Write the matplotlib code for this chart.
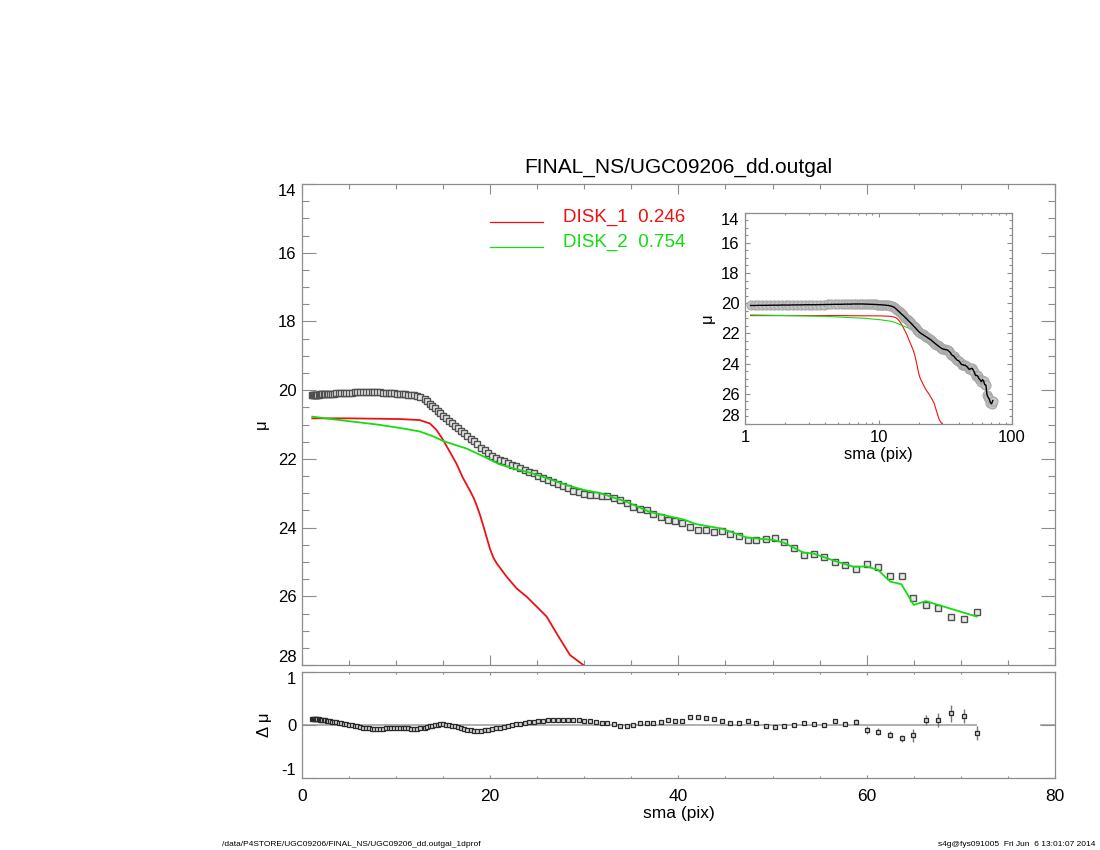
import numpy as np
import matplotlib.pyplot as plt
from matplotlib.ticker import MultipleLocator, FixedLocator, FixedFormatter, NullFormatter, LogLocator

plt.rcParams['font.family'] = ['Liberation Sans', 'DejaVu Sans']
plt.rcParams['axes.unicode_minus'] = False
NARROW = ['Liberation Sans Narrow', 'Liberation Sans', 'DejaVu Sans']

# observed isophote profile: semi-major axis (pix), surface brightness, residual
sma = [1.10, 1.18, 1.26, 1.35, 1.44, 1.54, 1.65, 1.76, 1.88, 2.01, 2.15, 2.30, 2.46, 2.63, 2.81, 3.00,
       3.20, 3.42, 3.65, 3.90, 4.15, 4.42, 4.70, 5.00, 5.30, 5.60, 5.90, 6.20, 6.50, 6.80, 7.10, 7.40,
       7.70, 8.00, 8.30, 8.60, 8.90, 9.20, 9.50, 9.80, 10.10, 10.40, 10.70, 11.00, 11.30, 11.60, 11.90,
       12.20, 12.55,
       13.06, 13.32, 13.59, 13.86, 14.14, 14.42, 14.71, 15.00, 15.30, 15.61, 15.92, 16.24, 16.56, 16.89,
       17.23, 17.58, 17.93, 18.29, 18.65, 19.03, 19.41, 19.80, 20.19, 20.60, 21.01, 21.43, 21.86, 22.29,
       22.74, 23.20, 23.66, 24.13, 24.62, 25.11, 25.61, 26.12, 26.65, 27.18, 27.72, 28.28, 28.84, 29.42,
       30.01, 30.61, 31.22,
       31.85, 32.45, 33.16, 33.79, 34.50, 35.21, 35.92, 36.63, 37.34, 38.12, 38.90, 39.67, 40.42, 41.23,
       42.05, 42.90, 43.78, 44.63, 45.52, 46.44, 47.36, 48.28, 49.27, 50.23, 51.22, 52.28, 53.31, 54.41,
       55.51, 56.61, 57.74, 58.87, 60.04, 61.25, 62.45, 63.73, 64.97, 66.28, 67.62, 68.93, 70.35, 71.77]

mu_obs = [20.15, 20.15, 20.14, 20.14, 20.14, 20.13, 20.13, 20.13, 20.12, 20.12, 20.12, 20.11, 20.11, 20.11, 20.10, 20.10,
          20.10, 20.10, 20.09, 20.09, 20.08, 20.08, 20.07, 20.07, 20.07, 20.06, 20.06, 20.06, 20.05, 20.05, 20.05, 20.05,
          20.05, 20.06, 20.06, 20.07, 20.07, 20.08, 20.08, 20.09, 20.10, 20.10, 20.11, 20.12, 20.13, 20.14, 20.15,
          20.17, 20.20,
          20.26, 20.32, 20.39, 20.46, 20.53, 20.60, 20.67, 20.74, 20.81, 20.89, 20.96, 21.03, 21.11, 21.18,
          21.26, 21.34, 21.41, 21.49, 21.58, 21.67, 21.75, 21.84, 21.91, 21.97, 22.03, 22.07, 22.12, 22.17,
          22.22, 22.27, 22.32, 22.37, 22.42, 22.49, 22.55, 22.62, 22.68, 22.74, 22.80, 22.86, 22.92, 22.97,
          23.01, 23.04, 23.06,
          23.07, 23.08, 23.13, 23.19, 23.27, 23.40, 23.47, 23.50, 23.61, 23.69, 23.78, 23.80, 23.86, 23.99,
          24.07, 24.07, 24.12, 24.10, 24.18, 24.23, 24.36, 24.37, 24.33, 24.31, 24.43, 24.58, 24.79, 24.77,
          24.85, 25.00, 25.08, 25.20, 25.06, 25.15, 25.40, 25.42, 26.06, 26.24, 26.35, 26.59, 26.66, 26.45]

d_mu = [0.120, 0.118, 0.116, 0.114, 0.112, 0.110, 0.107, 0.104, 0.101, 0.098, 0.094, 0.090, 0.086, 0.081, 0.076, 0.070,
        0.065, 0.058, 0.051, 0.043, 0.035, 0.027, 0.018, 0.008, -0.002, -0.012, -0.025, -0.037, -0.048, -0.057, -0.064, -0.068,
        -0.070, -0.070, -0.068, -0.066, -0.064, -0.062, -0.060, -0.060, -0.060, -0.060, -0.061, -0.062, -0.064, -0.066, -0.068,
        -0.068, -0.062,
        -0.050, -0.040, -0.025, -0.010, 0.000, 0.008, 0.010, 0.010, 0.006, 0.000, -0.010, -0.025, -0.040, -0.060,
        -0.075, -0.088, -0.098, -0.105, -0.110, -0.108, -0.100, -0.088, -0.075, -0.062, -0.048, -0.035, -0.020, -0.005,
        0.010, 0.022, 0.035, 0.048, 0.060, 0.072, 0.082, 0.090, 0.097, 0.100, 0.100, 0.100, 0.097, 0.090,
        0.080, 0.068, 0.055,
        0.04, 0.03, 0.01, -0.01, -0.01, 0.00, 0.04, 0.03, 0.03, 0.06, 0.09, 0.08, 0.08, 0.145,
        0.15, 0.125, 0.11, 0.07, 0.045, 0.03, 0.07, 0.03, -0.025, -0.045, -0.01, -0.005, 0.045, 0.025,
        0.005, 0.075, 0.025, 0.065, -0.095, -0.125, -0.18, -0.25, -0.195, 0.095, 0.095, 0.22, 0.175, -0.15]

# errors on the residuals of the outer 42 isophotes (inner ones are negligible)
d_mu_err_outer = [0.01, 0.01, 0.01, 0.01, 0.01, 0.01, 0.01, 0.01, 0.01, 0.01, 0.01, 0.01, 0.01, 0.01,
                  0.01, 0.01, 0.01, 0.01, 0.01, 0.01, 0.01, 0.01, 0.01, 0.01, 0.01, 0.015, 0.02, 0.02,
                  0.02, 0.025, 0.03, 0.04, 0.07, 0.06, 0.06, 0.07, 0.12, 0.10, 0.125, 0.16, 0.13, 0.125]

# model components
disk1_sma = [1.1, 5.0, 10.4, 12.5, 13.6, 14.3, 15.0, 15.7, 16.4, 17.1, 17.9, 18.25, 18.6, 18.95, 19.27,
             19.98, 20.35, 20.69, 21.75, 22.81, 23.87, 24.94, 26.0, 27.06, 28.48, 29.9, 31.5, 35.0]
disk1_mu = [20.82, 20.82, 20.84, 20.87, 20.97, 21.16, 21.45, 21.79, 22.13, 22.55, 22.95, 23.14, 23.38, 23.66, 23.95,
            24.62, 24.88, 25.04, 25.43, 25.77, 26.01, 26.30, 26.59, 27.08, 27.71, 28.0, 28.4, 29.2]
disk2_sma = [1.1, 4.0, 8.0, 10.4, 12.5, 14.0, 15.0, 17.5, 19.3, 21.0, 22.8, 24.6, 26.4, 28.1, 29.9, 31.7, 34.5,
             37.0, 40.5, 41.9, 44.6, 47.3, 50.1, 51.2, 53.3, 54.3, 56.5, 58.6, 60.0, 61.2, 62.5, 63.7, 65.0, 66.3,
             67.6, 71.7]
disk2_mu = [20.77, 20.87, 21.00, 21.10, 21.20, 21.35, 21.48, 21.70, 21.93, 22.16, 22.30, 22.43, 22.60, 22.76, 22.90,
            23.00, 23.25, 23.55, 23.76, 23.90, 24.03, 24.29, 24.36, 24.44, 24.73, 24.75, 24.96, 25.14, 25.13, 25.23,
            25.57, 25.65, 26.25, 26.14, 26.25, 26.59]

components = ['DISK_1', 'DISK_2']
fractions = [0.246, 0.754]
comp_colors = ['#ee1111', '#11dd11']

mu_ticks = [14, 16, 18, 20, 22, 24, 26, 28]
res_ticks = [-1, 0, 1]

frame = '#8c8c8c'

d_mu_err = np.concatenate([np.zeros(len(sma) - len(d_mu_err_outer)), d_mu_err_outer])


def style_axes(ax, xmaj, xmin, ymaj, ymin):
    for s in ax.spines.values():
        s.set_color(frame)
        s.set_linewidth(0.9)
    ax.tick_params(which='both', direction='in', top=True, right=True, color=frame, width=0.8)
    ax.tick_params(which='major', axis='x', length=xmaj)
    ax.tick_params(which='minor', axis='x', length=xmin)
    ax.tick_params(which='major', axis='y', length=ymaj)
    ax.tick_params(which='minor', axis='y', length=ymin)


def keep_end_labels_inside(ax, top_first):
    # IDL nudges the first/last y label inside the frame
    ticks = ax.yaxis.get_major_ticks()
    if top_first:
        ticks[0].label1.set_va('top')
        ticks[-1].label1.set_va('bottom')
    else:
        ticks[0].label1.set_va('bottom')
        ticks[-1].label1.set_va('top')


fig = plt.figure(figsize=(11, 8.5), dpi=100)

# main profile
ax = fig.add_axes([0.2745, 0.2176, 0.6845, 0.5659])
ax.plot(disk1_sma, disk1_mu, color=comp_colors[0], lw=1.3, zorder=3)
ax.plot(disk2_sma, disk2_mu, color=comp_colors[1], lw=1.3, zorder=3)
ax.plot(sma, mu_obs, ls='none', marker='s', ms=3.7, mfc='#e8e8e8', mec='#505050', mew=1.0, zorder=2)
ax.set_xlim(0, 80)
ax.set_ylim(28, 14)
ax.xaxis.set_major_locator(MultipleLocator(20))
ax.xaxis.set_minor_locator(MultipleLocator(5))
ax.yaxis.set_major_locator(FixedLocator(mu_ticks))
ax.yaxis.set_minor_locator(MultipleLocator(0.5))
ax.xaxis.set_major_formatter(NullFormatter())
style_axes(ax, 7.2, 3.8, 10, 5)
ax.tick_params(axis='y', labelsize=12, pad=4)
keep_end_labels_inside(ax, top_first=True)
ax.set_ylabel('μ', fontsize=12, labelpad=6)
ax.set_title('FINAL_NS/UGC09206_dd.outgal', fontsize=15, pad=8)

# legend drawn by hand, IDL style
for i, (name, frac) in enumerate(zip(components, fractions)):
    yy = 0.9216 - i * 0.052
    ax.plot([0.25, 0.32], [yy, yy], transform=ax.transAxes, color=comp_colors[i], lw=0.9)
    ax.text(0.3462, yy + 0.01, f'{name}  {frac:.3f}', transform=ax.transAxes,
            color=comp_colors[i], fontsize=13.5, va='center', ha='left')

# residuals
axr = fig.add_axes([0.2745, 0.0847, 0.6845, 0.1247])
axr.hlines(0, 0, sma[-1], color='#aaaaaa', lw=1.3, zorder=1)
axr.hlines(0, 78.4, 80, color='#aaaaaa', lw=1.3, zorder=1)
axr.errorbar(sma, d_mu, yerr=d_mu_err, fmt='none', ecolor='#777777', elinewidth=1.0, capsize=0, zorder=2)
axr.plot(sma, d_mu, ls='none', marker='s', ms=3.2, mfc='#d8d8d8', mec='#2a2a2a', mew=0.9, zorder=3)
axr.set_xlim(0, 80)
axr.set_ylim(-1, 1)
axr.xaxis.set_major_locator(MultipleLocator(20))
axr.xaxis.set_minor_locator(MultipleLocator(5))
axr.yaxis.set_major_locator(FixedLocator(res_ticks))
style_axes(axr, 2.0, 1.5, 10, 5)
axr.tick_params(axis='y', labelsize=12, pad=4)
axr.tick_params(axis='x', labelsize=12.5, pad=8)
keep_end_labels_inside(axr, top_first=False)
axr.set_ylabel('Δ μ', fontsize=12, labelpad=7)
axr.set_xlabel('sma (pix)', fontsize=12.5, labelpad=1)

# log inset
axi = fig.add_axes([0.6773, 0.5012, 0.2427, 0.2486])
axi.set_facecolor('white')
axi.plot(disk1_sma, disk1_mu, color=comp_colors[0], lw=0.8, zorder=2)
axi.plot(disk2_sma, disk2_mu, color=comp_colors[1], lw=0.8, zorder=2)
axi.plot(sma, mu_obs, ls='none', marker='o', ms=6.5, mfc='#c4c4c4', mec='#a8a8a8', mew=0.8, zorder=3)
axi.plot(sma, mu_obs, color='black', lw=1.0, zorder=4)
axi.set_xscale('log')
axi.set_xlim(1, 100)
axi.set_ylim(28, 14)
axi.xaxis.set_major_locator(FixedLocator([1, 10, 100]))
axi.xaxis.set_major_formatter(FixedFormatter(['1', '10', '100']))
axi.xaxis.set_minor_locator(LogLocator(base=10, subs=np.arange(2, 10)))
axi.xaxis.set_minor_formatter(NullFormatter())
axi.yaxis.set_major_locator(FixedLocator(mu_ticks))
axi.yaxis.set_minor_locator(MultipleLocator(0.5))
style_axes(axi, 3.0, 1.6, 3.8, 1.9)
axi.tick_params(labelsize=12, pad=4)
keep_end_labels_inside(axi, top_first=True)
axi.set_ylabel('μ', fontsize=12, labelpad=4)
axi.set_xlabel('sma (pix)', fontsize=12, labelpad=2)

# footer
fig.text(222 / 1100, 1 - 845 / 850, '/data/P4STORE/UGC09206/FINAL_NS/UGC09206_dd.outgal_1dprof',
         fontsize=6, family=NARROW, ha='left', va='center')
fig.text(1095 / 1100, 1 - 845 / 850, 's4g@fys091005  Fri Jun  6 13:01:07 2014',
         fontsize=6, family=NARROW, ha='right', va='center')

fig.savefig('out.png', dpi=100)
